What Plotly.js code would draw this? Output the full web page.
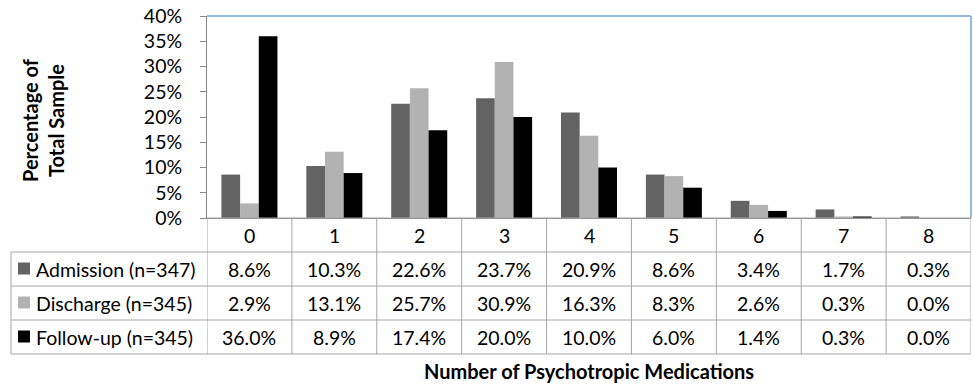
<!DOCTYPE html>
<html>
<head>
<meta charset="utf-8">
<script src="https://cdn.plot.ly/plotly-3.0.1.min.js"></script>
<style>html,body{margin:0;padding:0;background:#fff;}#chart{width:973px;height:385px;}</style>
</head>
<body>
<div id="chart"></div>
<script>
// ---- data ----
const categories = ["0","1","2","3","4","5","6","7","8"];
const seriesNames = ["Admission (n=347)", "Discharge (n=345)", "Follow-up (n=345)"];
const admission = [8.6, 10.3, 22.6, 23.7, 20.9, 8.6, 3.4, 1.7, 0.3];
const discharge = [2.9, 13.1, 25.7, 30.9, 16.3, 8.3, 2.6, 0.3, 0.0];
const followup  = [36.0, 8.9, 17.4, 20.0, 10.0, 6.0, 1.4, 0.3, 0.0];
const yTickVals = [0, 0.05, 0.10, 0.15, 0.20, 0.25, 0.30, 0.35, 0.40];
const yTitle = "Percentage of<br>Total Sample";
const xTitle = "Number of Psychotropic Medications";

// ---- styles / geometry ----
const colors = ["#636363", "#b2b2b2", "#000000"];
const W = 973, H = 385;
const L = 207, R = 971, T = 16, B = 218;
const PW = R - L, PH = B - T;
const FONT = "Lato, 'Open Sans', sans-serif";
const TXT = 19.5, TTL = 20;
const gridColor = "#a6a6a6";
function px(x) { return (x - L) / PW; }
function py(y) { return (B - y) / PH; }

const series = [admission, discharge, followup];
const xs = categories.map(Number);

const traces = series.map((vals, i) => ({
  type: "bar",
  name: seriesNames[i],
  x: xs,
  y: vals.map(v => v / 100),
  marker: { color: colors[i], line: { width: 0 } },
  hoverinfo: "skip"
}));

const rowTops = [218, 252, 286, 320, 354];
const shapes = [];
const annotations = [];

// plot area top/right border (blue)
shapes.push({ type: "line", xref: "paper", yref: "paper", x0: 0, x1: 1, y0: 1, y1: 1, line: { color: "#72a3d9", width: 1.5 } });
shapes.push({ type: "line", xref: "paper", yref: "paper", x0: 1, x1: 1, y0: 0, y1: 1, line: { color: "#72a3d9", width: 1.5 } });

// table horizontal lines
rowTops.forEach((y, k) => {
  shapes.push({ type: "line", xref: "paper", yref: "paper",
    x0: k === 0 ? 0 : px(11), x1: 1, y0: py(y), y1: py(y),
    line: { color: gridColor, width: 1 } });
});
// table vertical lines at category boundaries
for (let k = 0; k <= categories.length; k++) {
  shapes.push({ type: "line", xref: "x", yref: "paper",
    x0: k - 0.5, x1: k - 0.5, y0: py(218), y1: py(354),
    line: { color: gridColor, width: 1 } });
}
// left edge of label column
shapes.push({ type: "line", xref: "paper", yref: "paper",
  x0: px(11), x1: px(11), y0: py(252), y1: py(354),
  line: { color: gridColor, width: 1 } });

// header row: category labels
categories.forEach((c, j) => {
  annotations.push({ xref: "x", yref: "paper", x: xs[j], y: py((rowTops[0] + rowTops[1]) / 2),
    text: c, showarrow: false, xanchor: "center", yanchor: "middle",
    font: { family: FONT, size: TXT, color: "#000" } });
});

// data rows
series.forEach((vals, i) => {
  const yc = (rowTops[i + 1] + rowTops[i + 2]) / 2;
  // legend key square
  shapes.push({ type: "rect", xref: "paper", yref: "paper",
    x0: px(18), x1: px(30), y0: py(yc - 6.5), y1: py(yc + 5.5),
    fillcolor: colors[i], line: { width: 0 } });
  annotations.push({ xref: "paper", yref: "paper", x: px(34), y: py(yc),
    text: seriesNames[i], showarrow: false, xanchor: "left", yanchor: "middle",
    font: { family: FONT, size: TXT, color: "#000" } });
  vals.forEach((v, j) => {
    annotations.push({ xref: "x", yref: "paper", x: xs[j], y: py(yc),
      text: v.toFixed(1) + "%", showarrow: false, xanchor: "center", yanchor: "middle",
      font: { family: FONT, size: TXT, color: "#000" } });
  });
});

// axis titles
annotations.push({ xref: "paper", yref: "paper", x: px(43), y: py(120),
  text: "<b>" + yTitle + "</b>", textangle: -90, showarrow: false,
  xanchor: "center", yanchor: "middle",
  font: { family: FONT, size: TTL, color: "#000" } });
annotations.push({ xref: "paper", yref: "paper", x: 0.5, y: py(371),
  text: "<b>" + xTitle + "</b>", showarrow: false,
  xanchor: "center", yanchor: "middle",
  font: { family: FONT, size: TTL, color: "#000" } });

const layout = {
  width: W, height: H,
  margin: { l: L, r: W - R, t: T, b: H - B, pad: 0 },
  paper_bgcolor: "#fff", plot_bgcolor: "#fff",
  barmode: "group", bargap: 0.34, bargroupgap: 0,
  showlegend: false,
  font: { family: FONT, size: TXT, color: "#000" },
  xaxis: { range: [-0.5, categories.length - 0.5], showticklabels: false, ticks: "",
    showgrid: false, zeroline: false, showline: true, linecolor: "#868686", linewidth: 1, fixedrange: true },
  yaxis: { range: [0, 0.4], tickvals: yTickVals, tickformat: ".0%", ticks: "outside", ticklen: 6,
    tickcolor: "#868686", showgrid: false, zeroline: false, showline: true, linecolor: "#868686",
    linewidth: 1, tickfont: { family: FONT, size: TXT, color: "#000" }, ticklabelstandoff: 14, fixedrange: true },
  shapes: shapes,
  annotations: annotations
};

Plotly.newPlot("chart", traces, layout, { displayModeBar: false, staticPlot: true });
</script>
</body>
</html>
